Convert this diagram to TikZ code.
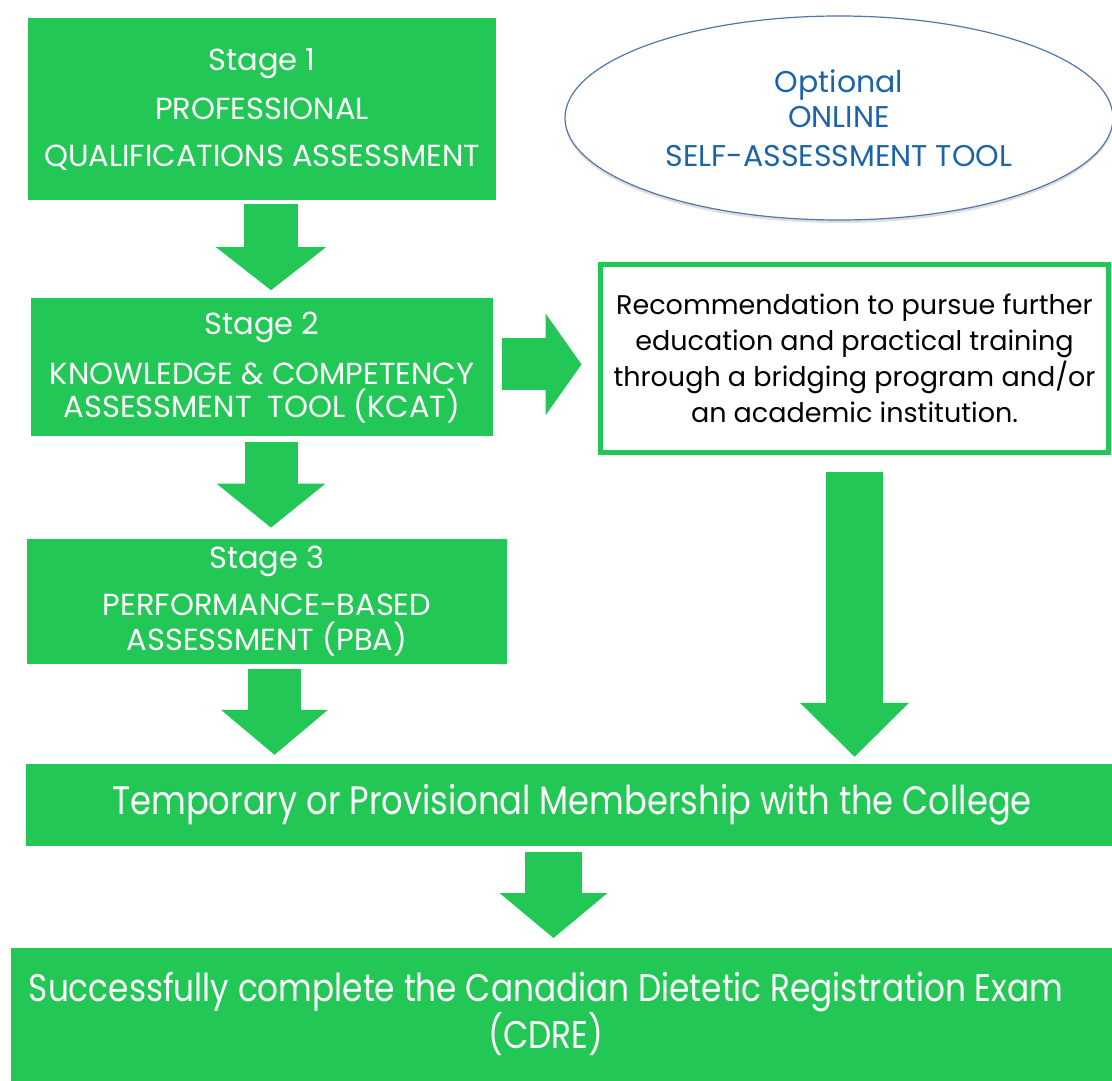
\documentclass[tikz,border=0pt]{standalone}
\usepackage{fontspec}
\setmainfont{Poppins}
\newfontfamily\narrowfont[FakeStretch=0.85]{Poppins}
\usetikzlibrary{positioning,arrows.meta,shapes.geometric,shadows}

\definecolor{stagegreen}{RGB}{34,199,86}
\definecolor{toolblue}{RGB}{28,100,170}
\definecolor{rimblue}{RGB}{84,118,168}

\begin{document}
\begin{tikzpicture}[x=1pt, y=-1pt,
    every node/.style={font=\fontsize{30.5}{33}\selectfont},
    stagebox/.style={fill=stagegreen, text=white, align=center, inner sep=0pt},
    flow/.style n args={3}{draw=stagegreen, line width=#1,
      -{Triangle[width=#2, length=#3, line width=0pt]}}]
  \fill[white] (0,0) rectangle (1112,1081);
  \useasboundingbox (0,0) rectangle (1112,1081);
  \clip (0,0) rectangle (1112,1081);

  % the three stages
  \node[stagebox, minimum width=468pt, minimum height=182pt] (stage1) at (262,109)
    {Stage 1\\[16pt]PROFESSIONAL\\[14pt]QUALIFICATIONS ASSESSMENT};
  \node[stagebox, minimum width=462pt, minimum height=138pt, below=98pt of stage1] (stage2)
    {Stage 2\\[17pt]KNOWLEDGE \& COMPETENCY\\ASSESSMENT\ \ TOOL (KCAT)};
  \node[stagebox, minimum width=480pt, minimum height=125pt, below=102pt of stage2, xshift=5pt] (stage3)
    {Stage 3\\[14pt]PERFORMANCE-BASED\\[2pt]ASSESSMENT (PBA)};

  % optional tool and recommendation
  \node[ellipse, draw=rimblue, line width=1.2pt, fill=white, text=toolblue, align=center,
    minimum width=548pt, minimum height=204pt,
    font=\fontsize{30}{33}\selectfont,
    drop shadow={shadow xshift=0pt, shadow yshift=-3pt, opacity=0.25}] (tool) at (839,118)
    {Optional\\[2pt]ONLINE\\[6pt]SELF-ASSESSMENT TOOL};
  \node[draw=stagegreen, line width=5pt, fill=white, align=center, inner sep=0pt,
    minimum width=508pt, minimum height=188pt,
    font=\fontsize{27}{36}\selectfont] (rec) at (854.5,358.5)
    {Recommendation to pursue further\\education and practical training\\through a bridging program and/or\\an academic institution.};

  % membership and exam
  \node[stagebox, minimum width=1092pt, minimum height=82pt,
    font=\narrowfont\fontsize{39.7}{40}\selectfont] (member) at (572,805)
    {Temporary or Provisional Membership with the College};
  \node[fill=stagegreen, minimum width=1119pt, minimum height=160pt, anchor=north west] (exam) at (11,948) {};
  \node[text=white, align=center, font=\narrowfont\fontsize{38.5}{47}\selectfont] (examtext) at (546,1014)
    {Successfully complete the Canadian Dietetic Registration Exam\\(CDRE)};

  % block arrows
  \draw[flow={54pt}{110pt}{43pt}, shorten <=4pt, shorten >=8pt]
    ([xshift=9pt]stage1.south) -- ([xshift=9pt]stage1.south |- stage2.north);
  \draw[flow={53pt}{109pt}{44pt}, shorten <=5pt, shorten >=11pt]
    ([xshift=9pt]stage2.south) -- ([xshift=9pt]stage2.south |- stage3.north);
  \draw[flow={53pt}{107pt}{45pt}, shorten <=5pt, shorten >=9pt]
    ([xshift=7.5pt]stage3.south) -- ([xshift=7.5pt]stage3.south |- member.north);
  \draw[flow={52pt}{102pt}{36pt}, shorten <=9pt, shorten >=16.5pt]
    ([yshift=3pt]stage2.east) -- ([yshift=3pt]stage2.east -| rec.west);
  \draw[flow={57pt}{109pt}{54pt}, shorten <=16.5pt, shorten >=7pt]
    (rec.south) -- (rec.south |- member.north);
  \draw[flow={57pt}{108pt}{45pt}, shorten <=6pt, shorten >=10pt]
    ([xshift=-18.5pt]member.south) -- ([xshift=-18.5pt]member.south |- exam.north);
\end{tikzpicture}
\end{document}
